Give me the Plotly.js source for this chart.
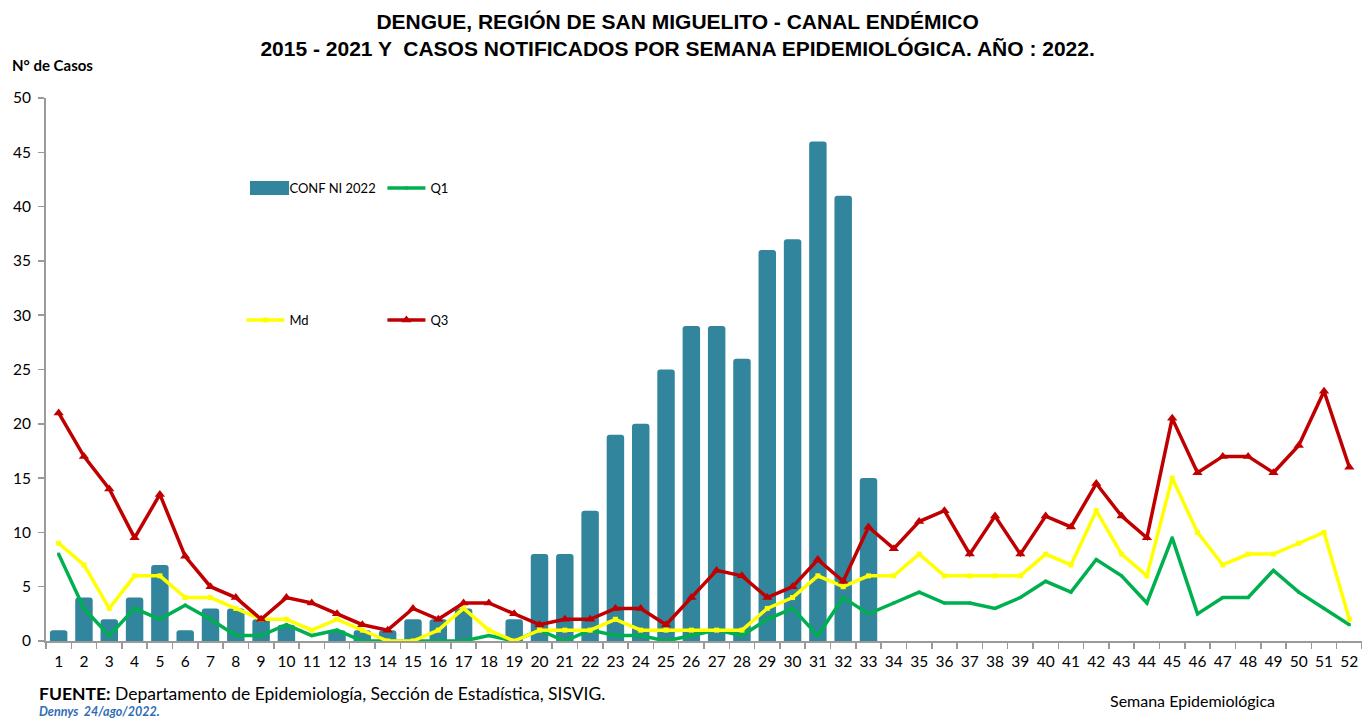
<!DOCTYPE html>
<html>
<head>
<meta charset="utf-8">
<script src="https://cdn.plot.ly/plotly-3.0.1.min.js"></script>
<style>
html,body{margin:0;padding:0;background:#fff;}
#chart{width:1362px;height:720px;}
</style>
</head>
<body>
<div id="chart"></div>
<script>
const weeks = ["1","2","3","4","5","6","7","8","9","10","11","12","13","14","15","16","17","18","19","20","21","22","23","24","25","26","27","28","29","30","31","32","33","34","35","36","37","38","39","40","41","42","43","44","45","46","47","48","49","50","51","52"];
const confNi2022 = [1,4,2,4,7,1,3,3,2,1.5,null,1,1,1,2,2,3,null,2,8,8,12,19,20,25,29,29,26,36,37,46,41,15];
const q1 = [8,3,0.5,3,2,3.3,2,0.5,0.5,1.5,0.5,1,0,0,0,0,0,0.5,0,1,0,1,0.5,0.5,0,0.5,1,0.5,2,3,0.5,4,2.5,3.5,4.5,3.5,3.5,3,4,5.5,4.5,7.5,6,3.5,9.5,2.5,4,4,6.5,4.5,3,1.5];
const md = [9,7,3,6,6,4,4,3,2,2,1,2,1,0,0,1,3,1,0,1,1,1,2,1,1,1,1,1,3,4,6,5,6,6,8,6,6,6,6,8,7,12,8,6,15,10,7,8,8,9,10,2];
const q3 = [21,17,14,9.5,13.5,7.8,5,4,2,4,3.5,2.5,1.5,1,3,2,3.5,3.5,2.5,1.5,2,2,3,3,1.5,4,6.5,6,4,5,7.5,5.5,10.5,8.5,11,12,8,11.5,8,11.5,10.5,14.5,11.5,9.5,20.5,15.5,17,17,15.5,18,23,16];

const FONT = "Lato, 'Open Sans', sans-serif";
const BAR_COLOR = '#31859C';

const traces = [
  {type:'bar', name:'CONF NI 2022', x:weeks.slice(0, confNi2022.length), y:confNi2022,
   marker:{color:BAR_COLOR, cornerradius:3}, legend:'legend'},
  {type:'scatter', mode:'lines+markers', name:'Q1', x:weeks, y:q1,
   line:{color:'#00B050', width:3.5}, marker:{color:'#00B050', size:3, symbol:'square'}, legend:'legend'},
  {type:'scatter', mode:'lines+markers', name:'Md', x:weeks, y:md,
   line:{color:'#FFFF00', width:3.5}, marker:{color:'#FFFF00', size:5, symbol:'square'}, legend:'legend2'},
  {type:'scatter', mode:'lines+markers', name:'Q3', x:weeks, y:q3,
   line:{color:'#C00000', width:3.5}, marker:{color:'#C00000', size:9, symbol:'triangle-up'}, legend:'legend2'}
];

const legendCommon = {
  orientation:'h', xanchor:'left', yanchor:'middle', entrywidth:88, entrywidthmode:'pixels',
  bgcolor:'rgba(0,0,0,0)', font:{family:FONT, size:13, color:'#000'}, itemwidth:38, traceorder:'normal'
};

const layout = {
  width:1362, height:720,
  margin:{l:46, r:0, t:98, b:79},
  paper_bgcolor:'#fff', plot_bgcolor:'#fff',
  bargap:0.31,
  showlegend:true,
  title:{text:'<b>DENGUE, REGIÓN DE SAN MIGUELITO - CANAL ENDÉMICO<br>2015 - 2021 Y  CASOS NOTIFICADOS POR SEMANA EPIDEMIOLÓGICA. AÑO : 2022.</b>',
         x:0.4975, xref:'container', xanchor:'center', y:0.96, yref:'container', yanchor:'top',
         font:{family:"'Liberation Sans', Arial, sans-serif", size:21, color:'#000'}},
  xaxis:{type:'category', categoryorder:'array', categoryarray:weeks,
         range:[-0.5, 51.5], tickson:'boundaries', ticks:'outside', ticklen:6, tickcolor:'#9a9a9a', tickwidth:1.5,
         showline:true, linecolor:'#9a9a9a', linewidth:2, showgrid:false, zeroline:false, ticklabelstandoff:5,
         tickfont:{family:FONT, size:15.5, color:'#000'}, tickangle:0, fixedrange:true},
  yaxis:{range:[0,50], dtick:5, ticks:'outside', ticklen:6, tickcolor:'#9a9a9a', tickwidth:1.5,
         showline:true, linecolor:'#9a9a9a', linewidth:2, showgrid:false, zeroline:false, ticklabelstandoff:4,
         tickfont:{family:FONT, size:15.5, color:'#000'}, fixedrange:true},
  legend:Object.assign({x:0.1485, y:0.834}, legendCommon),
  legend2:Object.assign({x:0.1485, y:0.591}, legendCommon),
  shapes:[
    {type:'rect', xref:'paper', yref:'paper', layer:'above',
     x0:0.155, x1:0.1847, y0:0.8214, y1:0.8471, fillcolor:BAR_COLOR, line:{width:0}}
  ],
  annotations:[
    {text:'<b>N° de Casos</b>', xref:'paper', yref:'paper', x:-0.027, y:1.06, xanchor:'left', yanchor:'middle', showarrow:false,
     font:{family:FONT, size:15, color:'#000'}},
    {text:'<b>FUENTE:</b> Departamento de Epidemiología, Sección de Estadística, SISVIG.', xref:'paper', yref:'paper',
     x:-0.0065, y:-0.096, xanchor:'left', yanchor:'middle', showarrow:false, font:{family:FONT, size:17.5, color:'#000'}},
    {text:'<b><i>Dennys  24/ago/2022.</i></b>', xref:'paper', yref:'paper',
     x:-0.0065, y:-0.129, xanchor:'left', yanchor:'middle', showarrow:false, font:{family:FONT, size:12.5, color:'#2E6DB4'}},
    {text:'Semana Epidemiológica', xref:'paper', yref:'paper',
     x:0.807, y:-0.11, xanchor:'left', yanchor:'middle', showarrow:false, font:{family:FONT, size:16, color:'#000'}}
  ]
};

Plotly.newPlot('chart', traces, layout, {displayModeBar:false, staticPlot:true});
</script>
</body>
</html>
